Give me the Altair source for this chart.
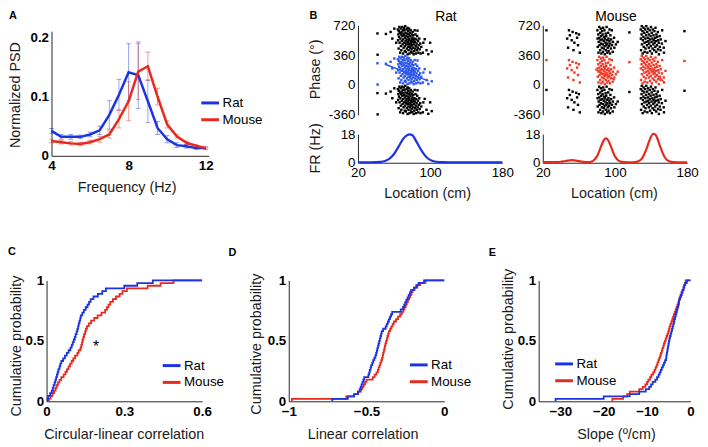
import altair as alt
import pandas as pd

W, H = 700, 439
FONT = "Liberation Sans"
BLUE = "#1c33e3"
RED = "#e62a1e"
BLUE_DOT = "#2e58ea"
RED_DOT = "#ef3b2a"
AXC = "#262626"

# ---------------- Panel A: normalized PSD ----------------
freq = [4.0, 4.5, 5.0, 5.5, 6.0, 6.5, 7.0, 7.5, 8.0, 8.5, 9.0, 9.5, 10.0, 10.5, 11.0, 11.5, 12.0]
rat_psd = [0.042, 0.032, 0.032, 0.032, 0.036, 0.043, 0.069, 0.103, 0.141, 0.136, 0.092, 0.047, 0.028, 0.018, 0.016, 0.013, 0.013]
rat_err = [0.004, 0.004, 0.004, 0.003, 0.004, 0.007, 0.024, 0.026, 0.048, 0.056, 0.036, 0.011, 0.006, 0.004, 0.003, 0.002, 0.002]
mouse_psd = [0.025, 0.023, 0.021, 0.020, 0.023, 0.028, 0.036, 0.062, 0.092, 0.142, 0.151, 0.100, 0.053, 0.033, 0.022, 0.017, 0.013]
mouse_err = [0.003, 0.003, 0.003, 0.003, 0.003, 0.005, 0.006, 0.015, 0.033, 0.047, 0.024, 0.014, 0.006, 0.003, 0.003, 0.002, 0.002]

# ---------------- Panel B: phase precession (spike location, theta phase) ----------------
rat_loc = [41.6, 41.8, 51.0, 56.2, 58.1, 60.3, 62.4,
           64.2, 64.5, 64.8, 65.1, 65.3, 65.6, 65.9, 66.2, 66.5, 66.8, 67.1, 67.3, 67.6, 67.9,
           68.1, 68.4, 68.6, 68.9, 69.2, 69.5, 69.8, 70.0, 70.2, 70.4, 70.6, 70.9, 71.1, 71.3, 71.6, 71.9,
           72.0, 72.2, 72.4, 72.7, 72.9, 73.1, 73.4, 73.6, 73.9, 74.0, 74.2, 74.5, 74.7, 74.9,
           75.0, 75.3, 75.5, 75.7, 75.9, 76.1, 76.3, 76.5, 76.7, 76.9, 77.0, 77.2, 77.5, 77.7, 77.9,
           78.1, 78.3, 78.5, 78.7, 78.9, 79.1, 79.4, 79.6, 79.8, 80.0, 80.2, 80.4, 80.6, 80.8,
           81.0, 81.3, 81.6, 81.8, 82.1, 82.4, 82.6, 82.9, 83.2, 83.5, 83.8, 84.1, 84.4, 84.7,
           85.0, 85.3, 85.7, 86.0, 86.3, 86.6, 87.0, 87.4, 88.0, 88.4, 89.0, 89.4, 90.2, 92.0, 92.5,
           94.0, 96.0, 98.0, 100.0, 101.8]
rat_phase = [262, 5, 256, 280, 200, 320, 150,
             310, 180, 250, 80, 290, 220, 340, 150, 270, 30, 200, 320, 110, 250,
             60, 280, 170, 340, 230, 130, 300, 20, 190, 260, 90, 330, 150, 240, 300, 50,
             210, 110, 350, 270, 170, 40, 140, 230, 310, 190, 80, 260, 130, 330,
             10, 220, 160, 290, 100, 60, 250, 180, 320, 130, 200, 20, 140, 270, 90,
             230, 110, 300, 170, 40, 150, 70, 250, 190, 120, 30, 210, 280, 160,
             90, 240, 180, 10, 130, 50, 200, 300, 160, 80, 250, 110, 20, 190,
             140, 60, 230, 296, 90, 170, 30, 120, 200, 70, 140, 20, 100, 30, 150,
             192, 60, 12, 150, 44]
rat_fit_loc = [50, 98]
rat_fit_phase = [250, 50]

mouse_loc = [24.0,
             47.0, 48.0, 49.0, 50.0, 52.0, 53.0, 54.0, 55.0, 57.0, 58.0, 59.0, 60.0, 61.0,
             80.5, 80.7, 80.9, 81.5, 81.7, 81.9, 82.5, 82.7, 82.9, 83.5, 83.7, 83.9, 84.3, 84.5, 84.7, 84.9,
             85.5, 85.7, 85.9, 86.3, 86.5, 86.7, 86.9, 87.5, 87.7, 87.9, 88.3, 88.5, 88.7, 88.9,
             89.5, 89.7, 89.9, 90.3, 90.5, 90.7, 90.9, 91.5, 91.7, 91.9, 92.5, 92.7, 92.9, 93.5, 93.7, 93.9,
             94.5, 94.7, 94.9, 95.5, 95.7, 96.5, 96.7, 97.5, 97.7, 99.0, 99.3, 101.0, 103.0,
             116.0,
             128.5, 128.7, 128.9, 129.5, 129.7, 129.9, 130.5, 130.7, 130.9, 131.5, 131.7, 131.9,
             132.5, 132.7, 132.9, 133.5, 133.7, 133.9, 134.5, 134.7, 134.9, 135.5, 135.7, 135.9,
             136.5, 136.7, 136.9, 137.5, 137.7, 137.9, 138.5, 138.7, 138.9, 139.5, 139.7, 139.9,
             140.5, 140.7, 140.9, 141.5, 141.7, 141.9, 142.5, 142.7, 142.9, 143.5, 143.7, 143.9,
             144.5, 144.7, 144.9, 145.5, 145.7, 145.9, 146.5, 146.7, 147.5, 147.7, 147.9, 148.5, 148.7,
             149.5, 149.7, 150.5, 150.7, 152.0, 152.3, 154.0, 154.3, 156.0,
             177.0]
mouse_phase = [300,
               200, 90, 300, 240, 180, 280, 60, 150, 265, 210, 120, 250, 30,
               300, 200, 100, 250, 30, 160, 340, 210, 120, 60, 270, 180, 320, 140, 230, 20,
               90, 290, 190, 250, 130, 40, 330, 170, 80, 220, 300, 110, 10, 200,
               150, 260, 60, 230, 120, 340, 180, 30, 140, 90, 270, 200, 50, 110, 170, 310,
               20, 140, 240, 80, 190, 300, 120, 40, 160, 210, 90, 130, 160,
               275,
               310, 200, 60, 250, 350, 130, 290, 20, 180, 220, 330, 100,
               270, 150, 40, 310, 200, 80, 240, 350, 160, 120, 280, 30,
               210, 320, 170, 90, 250, 140, 300, 190, 50, 230, 110, 340,
               160, 270, 20, 200, 80, 310, 130, 240, 180, 60, 290, 150,
               210, 100, 330, 170, 40, 250, 120, 220, 280, 70, 180, 150, 10,
               230, 100, 60, 190, 140, 300, 90, 30, 170,
               290]
mouse_fit_loc = [78, 100, 130, 155]
mouse_fit_phase = [190, 60, 290, 30]
mouse_fit_seg = [1, 1, 2, 2]

# ---------------- Panel B: firing rate ----------------
loc_rat = [20, 25, 30, 35, 40, 45, 50, 55, 60, 65, 70, 72.5, 75, 77.5, 80, 85, 90, 95, 100, 105, 110, 115, 120,
           130, 140, 150, 160, 170, 180]
rat_fr = [0.3, 0.3, 0.3, 0.3, 0.35, 0.5, 1.1, 2.6, 5.5, 10.1, 14.9, 16.5, 17.5, 17.8, 17.4, 13.1, 8.1, 4.1, 1.8, 0.8,
          0.45, 0.35, 0.3, 0.3, 0.3, 0.3, 0.3, 0.3, 0.3]
loc_mouse = [20, 25, 30, 35, 40, 45, 50, 52.5, 55, 60, 65, 70, 75, 80, 85, 87.5, 90, 92.5, 95, 100, 105, 110, 115,
             120, 125, 130, 135, 137.5, 140, 142.5, 145, 147.5, 150, 155, 160, 165, 170, 175, 180]
mouse_fr = [0.4, 0.4, 0.4, 0.4, 0.6, 1.1, 1.5, 1.6, 1.5, 1.0, 0.55, 0.4, 1.0, 4.0, 10.9, 14.1, 15.3, 14.1, 10.9, 4.0,
            1.0, 0.4, 0.3, 0.3, 0.7, 2.7, 8.8, 12.9, 16.5, 18.2, 17.5, 14.5, 10.4, 3.6, 0.9, 0.35, 0.3, 0.3, 0.3]

# ---------------- Panels C, D, E: samples for cumulative distributions ----------------
circ_rat = [0.004, 0.006, 0.014, 0.020, 0.024, 0.027, 0.031, 0.034, 0.037, 0.040, 0.043, 0.046, 0.050, 0.053, 0.057,
            0.064, 0.071, 0.078, 0.085, 0.092, 0.097, 0.101, 0.105, 0.109, 0.112, 0.116, 0.119, 0.122, 0.124, 0.127,
            0.130, 0.132, 0.138, 0.144, 0.151, 0.158, 0.164, 0.170, 0.181, 0.198, 0.215, 0.229, 0.300, 0.350, 0.410]
circ_mouse = [0.009, 0.016, 0.023, 0.029, 0.035, 0.039, 0.044, 0.050, 0.057, 0.066, 0.073, 0.079, 0.085, 0.091, 0.097,
              0.103, 0.110, 0.119, 0.124, 0.131, 0.134, 0.137, 0.139, 0.142, 0.145, 0.149, 0.152, 0.156, 0.163, 0.172,
              0.184, 0.197, 0.212, 0.226, 0.233, 0.239, 0.246, 0.256, 0.268, 0.282, 0.293, 0.310, 0.390, 0.440, 0.490]
lin_rat = [-0.72, -0.62, -0.58, -0.555, -0.544, -0.538, -0.532, -0.526, -0.520, -0.515, -0.488, -0.483, -0.479,
           -0.474, -0.470, -0.463, -0.457, -0.450, -0.443, -0.438, -0.434, -0.430, -0.426, -0.422, -0.418, -0.414,
           -0.410, -0.406, -0.402, -0.393, -0.377, -0.370, -0.363, -0.356, -0.349, -0.342, -0.335, -0.280, -0.265,
           -0.258, -0.251, -0.244, -0.236, -0.229, -0.221, -0.214, -0.195, -0.180, -0.165, -0.130]
lin_mouse = [-0.98, -0.63, -0.58, -0.555, -0.536, -0.527, -0.518, -0.509, -0.500, -0.460, -0.448, -0.436, -0.427,
             -0.422, -0.416, -0.411, -0.405, -0.400, -0.396, -0.393, -0.389, -0.385, -0.382, -0.378, -0.374, -0.369,
             -0.365, -0.360, -0.356, -0.348, -0.340, -0.332, -0.324, -0.310, -0.297, -0.284, -0.273, -0.263, -0.255,
             -0.248, -0.241, -0.234, -0.226, -0.219, -0.211, -0.204, -0.191, -0.173, -0.155, -0.120]
slope_rat = [-31.1, -20.0, -14.0, -11.8, -10.3, -9.5, -9.1, -8.7, -8.1, -7.7, -7.35, -7.1, -6.85, -6.6, -6.35, -6.1,
             -5.85, -5.6, -5.55, -5.45, -5.35, -5.25, -5.15, -5.05, -4.95, -4.85, -4.7, -4.55, -4.4, -4.25, -4.1,
             -3.95, -3.8, -3.7, -3.55, -3.4, -3.25, -3.1, -2.95, -2.8, -2.65, -2.6, -2.4, -2.2, -2.0, -1.8, -1.6,
             -1.4, -1.2, -0.8]
slope_mouse = [-18.0, -15.5, -14.6, -14.0, -11.8, -11.0, -10.4, -10.0, -9.7, -9.3, -9.0, -8.6, -8.3, -8.05, -7.8,
               -7.6, -7.4, -7.2, -7.0, -6.8, -6.6, -6.45, -6.25, -6.1, -5.9, -5.7, -5.5, -5.3, -5.1, -4.95, -4.8,
               -4.6, -4.4, -4.2, -4.0, -3.8, -3.6, -3.4, -3.2, -3.0, -2.8, -2.65, -2.5, -2.3, -2.05, -1.85, -1.6,
               -1.45, -1.25, -1.1]

species = ["Rat", "Mouse"]


# ---------------- helpers ----------------
def sc(domain, rng):
    return alt.Scale(domain=domain, range=rng, nice=False, zero=False)


def ax(values, orient, offset, title="", tx=None, ty=None, bold=True, expr=None, pad=3):
    kw = dict(values=values, orient=orient, offset=offset, grid=False, ticks=False,
              domainColor=AXC, domainWidth=1, labelFont=FONT, labelFontSize=13.5,
              labelFontWeight="bold" if bold else "normal", labelColor="#000",
              labelPadding=pad, labelOverlap=False, labelFlush=False, format=".6~r")
    if title:
        kw.update(title=title, titleX=tx, titleY=ty, titleAlign="center", titleBaseline="middle",
                  titleAngle=270 if orient == "left" else 0, titleFont=FONT, titleFontSize=14.5,
                  titleFontWeight="normal", titleColor="#1a1a1a")
    else:
        kw.update(title="")
    if expr:
        kw["labelExpr"] = expr
    return alt.Axis(**kw)


def leg(x, y):
    return alt.Legend(title=None, orient="none", legendX=x, legendY=y, symbolType="stroke", symbolSize=324,
                      symbolStrokeWidth=3, symbolOpacity=1, labelFont=FONT, labelFontSize=13.5,
                      labelColor="#000", labelOffset=2, rowPadding=-3, padding=0)


def color(legend):
    return alt.Color("species:N", scale=alt.Scale(domain=species, range=[BLUE, RED]), legend=legend)


def label(txt, x, y, size, weight="bold", baseline="middle"):
    return alt.Chart(alt.Data(values=[{}])).mark_text(
        text=txt, font=FONT, fontSize=size, fontWeight=weight, baseline=baseline, align="center", color="#000"
    ).encode(x=alt.value(x), y=alt.value(y))


# ---------------- Panel A ----------------
dfA = pd.DataFrame({
    "freq": freq * 2,
    "psd": rat_psd + mouse_psd,
    "err": rat_err + mouse_err,
    "species": ["Rat"] * len(freq) + ["Mouse"] * len(freq),
})
xA = alt.X("freq:Q", scale=sc([4, 12.15], [44, 202.9]),
           axis=ax([4, 8, 12], "bottom", 147 - H, "Frequency (Hz)", 120, 32))
yA_scale = sc([0, 0.21], [147, 21])
yA_axis = ax([0, 0.1, 0.2], "left", -44, "Normalized PSD", -36, 85)
legA = leg(194, 83)
baseA = alt.Chart(dfA).transform_calculate(lo="datum.psd - datum.err", hi="datum.psd + datum.err")
errA = baseA.mark_rule(strokeWidth=1, opacity=0.45).encode(
    x=xA, y=alt.Y("lo:Q", scale=yA_scale, axis=yA_axis), y2="hi:Q", color=color(legA))
capLo = baseA.mark_tick(orient="horizontal", size=5, thickness=1, opacity=0.45).encode(
    x=xA, y=alt.Y("lo:Q", scale=yA_scale, axis=yA_axis), color=color(legA))
capHi = baseA.mark_tick(orient="horizontal", size=5, thickness=1, opacity=0.45).encode(
    x=xA, y=alt.Y("hi:Q", scale=yA_scale, axis=yA_axis), color=color(legA))
lineA = baseA.mark_line(strokeWidth=2.5).encode(
    x=xA, y=alt.Y("psd:Q", scale=yA_scale, axis=yA_axis), color=color(legA))
panelA = alt.layer(errA, capLo, capHi, lineA)

# ---------------- Panel B ----------------
PH_DOM = [-360, 720]
PH_RNG = [105.5, 15]
FR_RNG = [154, 125]


def phase_panel(loc, phase, fit_df, xr, dot_color, with_title):
    df = pd.DataFrame({"loc": loc, "phase": phase})
    xx = alt.X("loc:Q", scale=sc([20, 180], xr), axis=None)
    yax = ax([-360, 0, 360, 720], "left", -xr[0], "Phase (°)" if with_title else "", -43, 59, bold=False,
             expr="'' + datum.value")
    ysc = sc(PH_DOM, PH_RNG)
    black = alt.Chart(df).transform_calculate(
        up="datum.phase + 360", dn="datum.phase - 360"
    ).transform_fold(["up", "dn"], as_=["copy", "shifted"]).mark_square(
        size=6, color="#000", opacity=1).encode(x=xx, y=alt.Y("shifted:Q", scale=ysc, axis=yax))
    col = alt.Chart(df).mark_square(size=6, color=dot_color, opacity=1).encode(
        x=xx, y=alt.Y("phase:Q", scale=ysc, axis=yax))
    fit = alt.Chart(fit_df).mark_line(color=dot_color, strokeWidth=1.5).encode(
        x=xx, y=alt.Y("phase:Q", scale=ysc, axis=yax), detail="seg:N")
    return alt.layer(black, col, fit)


def fr_panel(loc, fr, xr, line_color, with_title, title_x):
    df = pd.DataFrame({"loc": loc, "fr": fr})
    return alt.Chart(df).mark_line(color=line_color, strokeWidth=2.2, interpolate="monotone").encode(
        x=alt.X("loc:Q", scale=sc([20, 180], xr),
                axis=ax([20, 100, 180], "bottom", FR_RNG[0] - H, "Location (cm)", title_x, 31, bold=False)),
        y=alt.Y("fr:Q", scale=sc([0, 18], FR_RNG),
                axis=ax([0, 18], "left", -xr[0], "FR (Hz)" if with_title else "", -43, 139, bold=False,
                        expr="'' + datum.value")),
    )


rat_fit = pd.DataFrame({"loc": rat_fit_loc, "phase": rat_fit_phase, "seg": [1, 1]})
mouse_fit = pd.DataFrame({"loc": mouse_fit_loc, "phase": mouse_fit_phase, "seg": mouse_fit_seg})
panelBr = phase_panel(rat_loc, rat_phase, rat_fit, [354, 500], BLUE_DOT, True)
panelBrf = fr_panel(loc_rat, rat_fr, [354, 500], BLUE, True, 424)
panelBm = phase_panel(mouse_loc, mouse_phase, mouse_fit, [541, 687], RED_DOT, False)
panelBmf = fr_panel(loc_mouse, mouse_fr, [541, 687], RED, False, 613)


# ---------------- Panels C, D, E ----------------
def ecdf(rat_vals, mouse_vals, xmax):
    rows = []
    for sp, vals in (("Mouse", mouse_vals), ("Rat", rat_vals)):
        v = sorted(vals)
        n = len(v)
        rows.append((sp, v[0], 0.0, 0))
        for i, val in enumerate(v):
            rows.append((sp, val, (i + 1) / n, i + 1))
        rows.append((sp, xmax, 1.0, n + 1))
    return pd.DataFrame(rows, columns=["species", "value", "p", "idx"])


YB, YT = 395.3, 273


def cdf_panel(df, xdom, xr, xvals, xtitle, xtx, ytx, yty, legxy):
    return alt.Chart(df).mark_line(strokeWidth=1.8, interpolate="step-after").encode(
        x=alt.X("value:Q", scale=sc(xdom, xr), axis=ax(xvals, "bottom", YB - H, xtitle, xtx, 33.4)),
        y=alt.Y("p:Q", scale=sc([0, 1], [YB, YT]),
                axis=ax([0, 0.5, 1], "left", -xr[0], "Cumulative probability", ytx, yty)),
        color=color(leg(*legxy)),
        order="idx:Q",
    )


panelC = cdf_panel(ecdf(circ_rat, circ_mouse, 0.6), [0, 0.6], [39, 196.3], [0, 0.3, 0.6],
                   "Circular-linear correlation", 117, -30.5, 339, (155, 348.7))
panelD = cdf_panel(ecdf(lin_rat, lin_mouse, 0.0), [-1, 0], [284, 441.3], [-1, -0.5, 0],
                   "Linear correlation", 358.7, -33, 337, (405, 348))
panelE = cdf_panel(ecdf(slope_rat, slope_mouse, 0.0), [-35, 0], [536.8, 690.3], [-30, -20, -10, 0],
                   "Slope (º/cm)", 615, -30, 332, (552, 347))

texts = [
    label("A", 5, 0, 11, baseline="top"),
    label("B", 309, 0, 11, baseline="top"),
    label("C", 4, 244, 11),
    label("D", 227, 245, 11),
    label("E", 490, 245, 11),
    label("Rat", 443, 0, 14, weight="normal", baseline="top"),
    label("Mouse", 615, 0, 14, weight="normal", baseline="top"),
    label("*", 89, 345, 16, weight="normal", baseline="alphabetic"),
]

chart = alt.layer(
    panelA, panelBr, panelBrf, panelBm, panelBmf, panelC, panelD, panelE, *texts
).resolve_scale(
    x="independent", y="independent", color="independent"
).properties(
    width=W, height=H, padding=0, autosize=alt.AutoSizeParams(type="none"), background="white"
).configure_view(strokeWidth=0)

chart.save("out.html", embed_options={"renderer": "svg", "actions": False})
